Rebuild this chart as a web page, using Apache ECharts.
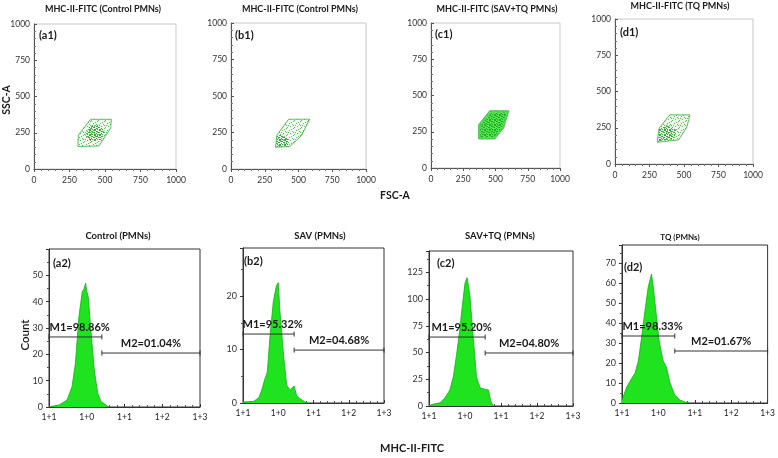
<!DOCTYPE html>
<html><head><meta charset="utf-8">
<script src="https://cdn.jsdelivr.net/npm/echarts@6/dist/echarts.min.js"></script>
<style>html,body{margin:0;padding:0;background:#fff}#c{width:778px;height:458px}</style>
</head><body><div id="c"></div><script>
// ---------- data ----------
const topTitles = ['MHC-II-FITC (Control PMNs)', 'MHC-II-FITC (Control PMNs)', 'MHC-II-FITC (SAV+TQ PMNs)', 'MHC-II-FITC (TQ PMNs)'];
const bottomTitles = ['Control (PMNs)', 'SAV (PMNs)', 'SAV+TQ (PMNs)', 'TQ (PMNs)'];
const topPanelLabels = ['(a1)', '(b1)', '(c1)', '(d1)'];
const bottomPanelLabels = ['(a2)', '(b2)', '(c2)', '(d2)'];
const scatterTicks = [0, 250, 500, 750, 1000];
const histTickLabels = ['1+1', '1+0', '1+1', '1+2', '1+3'];

// FSC-A / SSC-A gate polygons
const gateA1 = [[398,343],[545,343],[540,281],[457,159],[309,155],[312,234]];
const gateB1 = [[427,341],[583,341],[521,227],[434,153],[330,149],[340,233]];
const gateC1 = [[455,395],[603,395],[564,276],[494,200],[369,200],[369,299]];
const gateD1 = [[397,339],[544,339],[520,253],[461,166],[306,150],[319,247]];
// densest cell regions inside each gate
const coreA1 = [[390,295],[460,305],[500,260],[470,200],[400,190],[360,235]];
const coreB1 = [[335,222],[380,238],[430,200],[425,155],[335,152]];
const coreC1 = [[470,378],[585,382],[552,282],[490,214],[384,214],[381,296]];
const coreD1 = [[320,242],[385,272],[442,236],[432,175],[312,155]];

// histograms (MHC-II-FITC decade position, count)
const histA2X = [0, 0.27, 0.48, 0.61, 0.70, 0.79, 0.88, 0.93, 0.97, 1.00, 1.04, 1.11, 1.20, 1.29, 1.38, 1.42, 1.51, 1.56];
const histA2Y = [0.1, 0.8, 2.7, 7.7, 16.6, 34, 43.7, 45, 47, 44, 41.8, 29, 14, 5.3, 2, 2.7, 0.8, 0];
const histB2X = [0, 0.30, 0.45, 0.53, 0.62, 0.69, 0.76, 0.86, 0.95, 1.00, 1.05, 1.15, 1.24, 1.33, 1.40, 1.45, 1.52, 1.62, 1.71, 1.81];
const histB2Y = [0.2, 0.3, 1.0, 2.4, 4.5, 5.8, 12, 19, 22, 22.5, 17, 9, 3.3, 2.5, 2.8, 3.2, 1.4, 0.8, 0.4, 0];
const histC2X = [0, 0.15, 0.31, 0.45, 0.58, 0.68, 0.77, 0.85, 0.91, 1.00, 1.06, 1.14, 1.23, 1.32, 1.42, 1.46, 1.52, 1.56, 1.65, 1.72, 1.79];
const histC2Y = [0.5, 2, 3, 8, 15, 28, 49, 70, 89, 115, 120, 102, 64, 27, 17, 18, 16, 17, 15, 4, 0];
const histD2X = [0, 0.13, 0.27, 0.36, 0.45, 0.54, 0.63, 0.72, 0.81, 0.86, 0.93, 1.02, 1.13, 1.22, 1.32, 1.45, 1.59, 1.73, 1.86];
const histD2Y = [1.5, 8, 12.4, 15, 21, 33, 46, 58, 64.5, 58, 46, 31, 21, 18, 10, 4, 1.5, 0.5, 0];
const countMax = [60, 29, 145, 79];
const countStep = [10, 10, 25, 10];

// markers [start, end, count level]
const m1Ranges = [[0, 1.40, 26.6], [0, 1.45, 12.9], [0, 1.56, 64.5], [0, 1.45, 33.5]];
const m2Ranges = [[1.40, 4, 20.5], [1.45, 4, 9.9], [1.56, 4, 49.6], [1.45, 4, 26]];
const m1Labels = ['M1=98.86%', 'M1=95.32%', 'M1=95.20%', 'M1=98.33%'];
const m2Labels = ['M2=01.04%', 'M2=04.68%', 'M2=04.80%', 'M2=01.67%'];

// ---------- styling / layout ----------
const FONT = 'Lato, "Open Sans", sans-serif';
const topGrids = [
  {left:34, top:24, width:142, height:145},
  {left:231, top:23, width:135, height:146},
  {left:431, top:23, width:129, height:145},
  {left:615, top:19, width:138, height:145}
];
const botGrids = [
  {left:49, top:249, width:151, height:158},
  {left:243, top:248, width:141, height:155},
  {left:429, top:251, width:144, height:155},
  {left:622, top:245, width:146, height:158}
];

function dotPattern(size, dots, color) {
  const c = document.createElement('canvas');
  c.width = size; c.height = size;
  const ctx = c.getContext('2d');
  ctx.fillStyle = color;
  dots.forEach(d => ctx.fillRect(d[0], d[1], 1, 1));
  return c;
}
const sparseDots = [[0,1],[3,0],[6,2],[2,4],[5,5],[1,6],[4,3],[6,6]];
const denseDots = [[0,0],[2,1],[4,0],[1,3],[3,2],[4,4],[0,4],[2,4],[4,2],[1,1]];
const sparsePat = {image: dotPattern(7, sparseDots, '#5cbf5c'), repeat: 'repeat'};
const densePat = {image: dotPattern(5, denseDots, '#36a836'), repeat: 'repeat'};
const brightDense = {image: dotPattern(5, denseDots, '#1fb21f'), repeat: 'repeat'};

const gates = [gateA1, gateB1, gateC1, gateD1];
const cores = [coreA1, coreB1, coreC1, coreD1];
const gateBase = ['rgba(120,210,120,0.12)', 'rgba(120,210,120,0.08)', 'rgba(50,225,50,0.85)', 'rgba(120,210,120,0.15)'];
const histX = [histA2X, histB2X, histC2X, histD2X];
const histY = [histA2Y, histB2Y, histC2Y, histD2Y];

const grid = [], xAxis = [], yAxis = [], series = [];
topGrids.forEach((g, i) => {
  grid.push(Object.assign({show:true, borderColor:'#c8c8c8', borderWidth:1, backgroundColor:'#fff'}, g));
  xAxis.push({gridIndex:i, type:'value', min:0, max:1000, interval:250,
    axisLine:{show:true, onZero:false, lineStyle:{color:'#555', width:1}},
    axisTick:{show:true, length:3, lineStyle:{color:'#555'}},
    minorTick:{show:true, splitNumber:5, length:2, lineStyle:{color:'#777'}},
    splitLine:{show:false},
    axisLabel:{fontSize:8.5, color:'#333', margin:7, fontFamily:FONT,
      formatter: v => scatterTicks.includes(v) ? String(v) : ''}
  });
  yAxis.push({gridIndex:i, type:'value', min:0, max:1000, interval:250,
    axisLine:{show:true, onZero:false, lineStyle:{color:'#555', width:1}},
    axisTick:{show:true, inside:true, length:3, lineStyle:{color:'#555'}},
    minorTick:{show:true, splitNumber:5, length:2, lineStyle:{color:'#777'}},
    splitLine:{show:false},
    axisLabel:{fontSize:8.5, color:'#333', margin:4, fontFamily:FONT, formatter: v => String(v)}
  });
  series.push({type:'custom', xAxisIndex:i, yAxisIndex:i, silent:true, data:[[0,0]],
    renderItem:(params, api) => {
      const pts = gates[i].map(p => api.coord(p));
      const core = cores[i].map(p => api.coord(p));
      return {type:'group', children:[
        {type:'polygon', shape:{points:pts}, style:{fill:gateBase[i], stroke:null}},
        {type:'polygon', shape:{points:pts}, style:{fill:sparsePat, stroke:null}},
        {type:'polygon', shape:{points:core}, style:{fill: i === 2 ? brightDense : densePat, stroke:null}},
        {type:'polygon', shape:{points:pts}, style:{fill:null, stroke:'#3dae3d', lineWidth:0.8}}
      ]};
    }
  });
});

botGrids.forEach((g, k) => {
  const i = k + 4;
  grid.push(Object.assign({show:true, borderColor:'#333', borderWidth:1, backgroundColor:'#fff'}, g));
  xAxis.push({gridIndex:i, type:'value', min:0, max:4, interval:1,
    axisLine:{show:true, onZero:false, lineStyle:{color:'#333', width:1}},
    axisTick:{show:true, inside:true, length:3, lineStyle:{color:'#333'}},
    minorTick:{show:true, splitNumber:5, length:2, lineStyle:{color:'#555'}},
    splitLine:{show:false},
    axisLabel:{fontSize:8.5, color:'#222', margin:6, fontFamily:FONT,
      formatter: v => histTickLabels[Math.round(v)] || ''}
  });
  yAxis.push({gridIndex:i, type:'value', min:0, max:countMax[k], interval:countStep[k],
    axisLine:{show:true, onZero:false, lineStyle:{color:'#333', width:1}},
    axisTick:{show:true, length:3, lineStyle:{color:'#333'}},
    minorTick:{show:true, splitNumber:2, length:2, lineStyle:{color:'#555'}},
    splitLine:{show:false},
    axisLabel:{fontSize:9, color:'#333', margin:6, fontFamily:FONT, showMaxLabel:false}
  });
  series.push({type:'line', xAxisIndex:i, yAxisIndex:i, silent:true, symbol:'none', z:2,
    data: histX[k].map((x, j) => [x, histY[k][j]]),
    lineStyle:{color:'#10b010', width:0.8},
    areaStyle:{color:'#1ee31e', opacity:1}
  });
  series.push({type:'custom', xAxisIndex:i, yAxisIndex:i, silent:true, z:10,
    data:[m1Ranges[k], m2Ranges[k]],
    renderItem:(params, api) => {
      const a = api.coord([api.value(0), api.value(2)]);
      const b = api.coord([api.value(1), api.value(2)]);
      const isM1 = params.dataIndex === 0;
      const frac = isM1 ? 0.58 : 0.5;
      const label = isM1 ? m1Labels[k] : m2Labels[k];
      const tx = a[0] + (b[0] - a[0]) * frac;
      return {type:'group', children:[
        {type:'line', shape:{x1:a[0], y1:a[1], x2:b[0], y2:b[1]}, style:{stroke:'#333', lineWidth:1}},
        {type:'line', shape:{x1:a[0], y1:a[1]-2.5, x2:a[0], y2:a[1]+2.5}, style:{stroke:'#333', lineWidth:1}},
        {type:'line', shape:{x1:b[0], y1:b[1]-2.5, x2:b[0], y2:b[1]+2.5}, style:{stroke:'#333', lineWidth:1}},
        {type:'text', x:tx, y:a[1]-9.5, style:{text:label, fill:'#1a1a1a', font:'bold 11px ' + FONT, align:'center', verticalAlign:'middle'}}
      ]};
    }
  });
});

const graphic = [];
const txt = (text, x, y, size, weight, align, rot) => graphic.push({type:'text', x, y, rotation: rot || 0,
  style:{text, fill:'#1a1a1a', font: weight + ' ' + size + 'px ' + FONT, align: align || 'center', verticalAlign:'middle'}});
[[103,9],[300,9],[497,9],[680,6]].forEach((p, i) => txt(topTitles[i], p[0], p[1], 9, 'bold'));
[[118,236],[320,236],[500,236],[680,237]].forEach((p, i) => txt(bottomTitles[i], p[0], p[1], i === 3 ? 8 : 9.5, 'bold'));
[[39,35],[235,35],[435,34],[620,32]].forEach((p, i) => txt(topPanelLabels[i], p[0], p[1], 11, 'bold', 'left'));
[[53,263],[244,261],[437,263],[624,267]].forEach((p, i) => txt(bottomPanelLabels[i], p[0], p[1], 11, 'bold', 'left'));
txt('SSC-A', 7, 100, 10.5, 'bold', 'center', Math.PI / 2);
txt('FSC-A', 395, 196, 10.5, 'bold');
txt('Count', 25, 335, 11.5, '600', 'center', Math.PI / 2);
txt('MHC-II-FITC', 412, 448, 11, 'bold');

const chart = echarts.init(document.getElementById('c'), null, {renderer:'canvas'});
chart.setOption({animation:false, backgroundColor:'#fff', grid, xAxis, yAxis, series, graphic});
</script></body></html>
